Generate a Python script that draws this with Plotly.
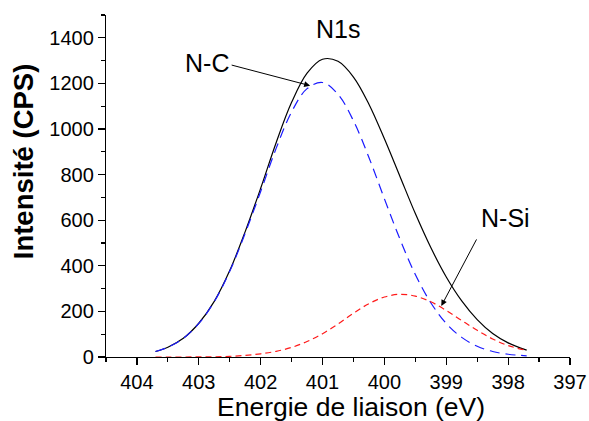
import plotly.graph_objects as go

# Binding energy (eV)
energy = [403.7, 403.5, 403.25, 403.0, 402.75, 402.5, 402.25, 402.0, 401.75, 401.5,
          401.25, 401.0, 400.75, 400.5, 400.25, 400.0, 399.75, 399.5, 399.25, 399.0,
          398.75, 398.5, 398.25, 398.0, 397.7]
# Total N1s envelope (CPS)
n1s_total = [24, 43, 82, 148, 244, 379, 550, 740, 940, 1117, 1245, 1306, 1297, 1228,
             1109, 957, 793, 629, 480, 351, 246, 164, 103, 62, 30]
# N-C component
n_c = [24, 43, 82, 147, 243, 376, 543, 726, 915, 1075, 1177, 1204, 1152, 1036,
       875, 694, 518, 362, 238, 147, 86, 47, 24, 12, 5]
# N-Si component
n_si = [0, 0, 0, 1, 1, 3, 7, 14, 25, 42, 68, 102, 145, 192, 234, 263, 275, 267,
        242, 204, 160, 117, 79, 50, 29]

x_ticks = [404, 403, 402, 401, 400, 399, 398, 397]
y_ticks = [0, 200, 400, 600, 800, 1000, 1200, 1400]

FONT = "Liberation Sans, Arial, sans-serif"

fig = go.Figure()
fig.add_trace(go.Scatter(x=energy, y=n1s_total, mode="lines", name="N1s",
                         line=dict(color="black", width=1.2, shape="spline")))
fig.add_trace(go.Scatter(x=energy, y=n_c, mode="lines", name="N-C",
                         line=dict(color="#1a1aff", width=1.2, dash="10px,6px", shape="spline")))
fig.add_trace(go.Scatter(x=energy, y=n_si, mode="lines", name="N-Si",
                         line=dict(color="#ff1a1a", width=1.2, dash="6px,4px", shape="spline")))

axis_common = dict(showgrid=False, zeroline=False, showline=True, linecolor="black",
                   linewidth=1.2, ticks="outside", ticklen=7, tickwidth=1.2,
                   tickcolor="black", tickfont=dict(family=FONT, size=20, color="black"),
                   mirror=False, automargin=False)

fig.update_layout(
    width=589, height=421,
    margin=dict(l=106, r=19, t=15, b=64),
    plot_bgcolor="white", paper_bgcolor="white",
    showlegend=False,
    hovermode=False,
    xaxis=dict(range=[404.5, 397], tickvals=x_ticks, ticktext=[str(v) for v in x_ticks],
               minor=dict(tickvals=[404.5 - 0.5 * i for i in range(16)], ticklen=4,
                          ticks="outside", tickcolor="black", tickwidth=1.2),
               **axis_common),
    yaxis=dict(range=[0, 1500], tickvals=y_ticks, ticktext=[str(v) for v in y_ticks],
               minor=dict(dtick=100, ticklen=4, ticks="outside", tickcolor="black",
                          tickwidth=1.2),
               **axis_common),
)

ann_font = dict(family=FONT, size=25, color="black")
# Axis titles
fig.add_annotation(text="Energie de liaison (eV)", xref="paper", yref="paper",
                   x=0.529, y=-0.146, showarrow=False, xanchor="center", yanchor="middle",
                   font=dict(family=FONT, size=26.5, color="black"))
fig.add_annotation(text="<b>Intensité (CPS)</b>", xref="paper", yref="paper",
                   x=-0.177, y=0.572, showarrow=False, textangle=-90,
                   xanchor="center", yanchor="middle",
                   font=dict(family=FONT, size=27.5, color="black"))
# Labels
fig.add_annotation(text="N1s", x=400.75, y=1440, showarrow=False, font=ann_font)
fig.add_annotation(text="N-C", x=402.87, y=1290, showarrow=False, font=ann_font)
fig.add_annotation(text="N-Si", x=398.05, y=608, showarrow=False, font=ann_font)
# Arrows
fig.add_annotation(text="", x=401.2, y=1190, ax=-80, ay=-21, showarrow=True,
                   arrowhead=2, arrowsize=1.2, arrowwidth=1, arrowcolor="black")
fig.add_annotation(text="", x=399.08, y=224, ax=36, ay=-68, showarrow=True,
                   arrowhead=2, arrowsize=1.2, arrowwidth=1, arrowcolor="black")

fig.write_html("out.html",
               config={"displayModeBar": False, "staticPlot": True},
               post_script="document.body.style.margin='0';document.body.style.overflow='hidden';")
